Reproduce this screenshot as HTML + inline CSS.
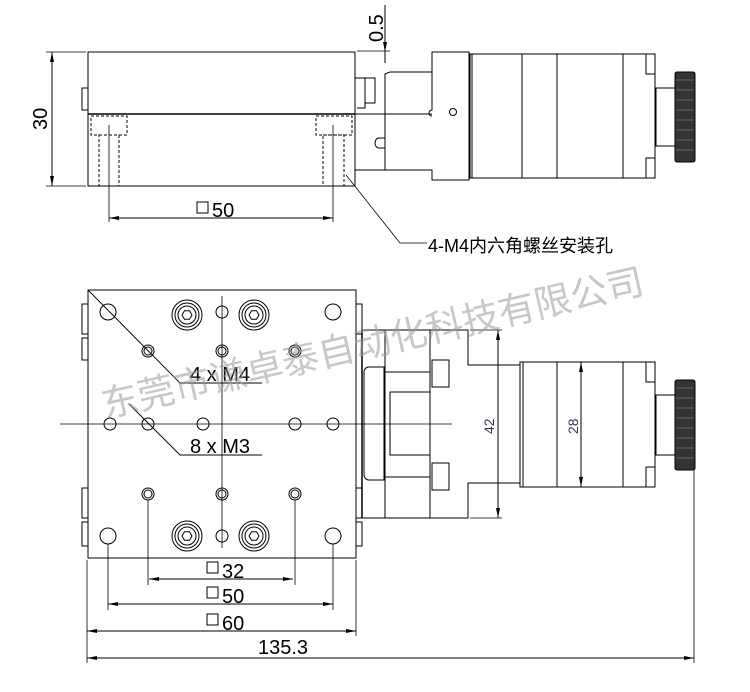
<!DOCTYPE html>
<html><head><meta charset="utf-8"><style>
html,body{margin:0;padding:0;background:#fff;}
svg{display:block;}
text{font-family:"Liberation Sans","Noto Sans CJK SC",sans-serif;}
</style></head><body>
<svg width="750" height="692" viewBox="0 0 750 692" xmlns="http://www.w3.org/2000/svg">
<defs>
<marker id="a" viewBox="0 0 10 4" refX="10" refY="2" markerWidth="10" markerHeight="4" orient="auto-start-reverse"><path d="M0,0L10,2L0,4z" fill="#000"/></marker>
</defs>
<g fill="none" stroke="#000" stroke-width="1">
<!-- ===== SIDE VIEW ===== -->
<rect x="88" y="52" width="267" height="134" fill="none"/>
<line x1="88" y1="114" x2="355" y2="114" stroke-width="1.5"/>
<path d="M88,88 h-6 v22 h6"/>
<g stroke-dasharray="3,2">
<rect x="91" y="116" width="36" height="19" fill="none"/><rect x="99" y="135" width="20" height="51" fill="none"/>
<rect x="316" y="116" width="36" height="19" fill="none"/><rect x="323" y="135" width="21" height="51" fill="none"/>
</g>
<line x1="109" y1="125" x2="109" y2="222" stroke-width="0.8"/>
<line x1="333" y1="125" x2="333" y2="222" stroke-width="0.8"/>
<line x1="109" y1="218" x2="333" y2="218" marker-start="url(#a)" marker-end="url(#a)"/>
<line x1="46" y1="52" x2="86" y2="52" stroke-width="0.8"/><line x1="46" y1="186" x2="86" y2="186" stroke-width="0.8"/>
<line x1="52" y1="52" x2="52" y2="186" marker-start="url(#a)" marker-end="url(#a)"/>
<line x1="385" y1="5" x2="385" y2="52" marker-end="url(#a)"/>
<line x1="385" y1="52" x2="385" y2="63"/>
<line x1="357" y1="51" x2="390" y2="51" stroke-width="0.8"/>
<path d="M355,78 h10 v30 h-8"/>
<rect x="365" y="78" width="10" height="25" fill="none"/>
<path d="M385,114 v-40 l5,-2 h42 v-20 h37 v128 h-37 v-10 h-77"/>
<line x1="355" y1="114" x2="432" y2="114"/>
<path d="M432,72 v38 a3,3 0 0 0 0,6"/>
<line x1="385" y1="114" x2="385" y2="170"/>
<circle cx="453" cy="112" r="3.5"/>
<path d="M385,138 h-6 a4,5 0 0 0 0,10 h6"/>
<path d="M470,54 H655 V178 H470 Z"/>
<line x1="472" y1="54" x2="472" y2="178"/>
<line x1="522" y1="54" x2="522" y2="178"/>
<line x1="557" y1="54" x2="557" y2="178"/>
<line x1="623" y1="54" x2="623" y2="178"/>
<path d="M646,54 v20 h9 M646,178 v-20 h9"/>
<path d="M656,88 h19 v58 h-19 Z"/>
<rect x="675" y="72" width="20" height="90" rx="2" fill="#333"/>
<g stroke="#999" stroke-width="0.6">
<line x1="676" y1="80" x2="694" y2="80"/><line x1="676" y1="90" x2="694" y2="90"/><line x1="676" y1="100" x2="694" y2="100"/><line x1="676" y1="110" x2="694" y2="110"/><line x1="676" y1="120" x2="694" y2="120"/><line x1="676" y1="130" x2="694" y2="130"/><line x1="676" y1="140" x2="694" y2="140"/><line x1="676" y1="150" x2="694" y2="150"/>
</g>
<polyline points="346,175 400,243 427,243" stroke-width="0.8"/>
<!-- ===== TOP VIEW ===== -->
<rect x="88" y="290" width="268" height="268" fill="none"/>
<path d="M88,304 h-6 v30 h6 M88,338 h-6 v22 h6 M88,488 h-6 v30 h6 M88,522 h-6 v24 h6"/>
<path d="M356,304 h6 v30 h-6 M356,488 h6 v30 h-6 M356,522 h6 v24 h-6"/>
<line x1="60" y1="424" x2="452" y2="424" stroke-width="0.8"/>
<line x1="222" y1="296" x2="222" y2="548" stroke-width="0.8"/>
<circle cx="108" cy="312" r="8"/><circle cx="333" cy="312" r="8"/>
<circle cx="108" cy="536" r="8"/><circle cx="333" cy="536" r="8"/>
<circle cx="110" cy="424" r="6"/><circle cx="333" cy="424" r="6"/>
<circle cx="203" cy="424" r="6"/><circle cx="222" cy="312" r="6"/><circle cx="222" cy="536" r="6"/>
<circle cx="148" cy="351" r="6"/><circle cx="148" cy="351" r="4"/>
<circle cx="222" cy="351" r="6"/><circle cx="222" cy="351" r="4"/>
<circle cx="295" cy="351" r="6"/><circle cx="295" cy="351" r="4"/>
<circle cx="148" cy="494" r="6"/><circle cx="148" cy="494" r="4"/>
<circle cx="222" cy="494" r="6"/><circle cx="222" cy="494" r="4"/>
<circle cx="295" cy="494" r="6"/><circle cx="295" cy="494" r="4"/>
<circle cx="148" cy="424" r="6"/><circle cx="295" cy="424" r="6"/>
<circle cx="187" cy="315" r="15"/><circle cx="187" cy="315" r="12"/><circle cx="187" cy="315" r="9"/>
<polygon points="192,315 189.5,319.3 184.5,319.3 182,315 184.5,310.7 189.5,310.7"/>
<circle cx="254" cy="315" r="15"/><circle cx="254" cy="315" r="12"/><circle cx="254" cy="315" r="9"/>
<polygon points="259,315 256.5,319.3 251.5,319.3 249,315 251.5,310.7 256.5,310.7"/>
<circle cx="187" cy="536" r="15"/><circle cx="187" cy="536" r="12"/><circle cx="187" cy="536" r="9"/>
<polygon points="192,536 189.5,540.3 184.5,540.3 182,536 184.5,531.7 189.5,531.7"/>
<circle cx="254" cy="536" r="15"/><circle cx="254" cy="536" r="12"/><circle cx="254" cy="536" r="9"/>
<polygon points="259,536 256.5,540.3 251.5,540.3 249,536 251.5,531.7 256.5,531.7"/>
<polyline points="88,290 180,383 262,383" stroke-width="0.9"/>
<polyline points="129,404 180,455 262,455" stroke-width="0.9"/>
<line x1="148" y1="500" x2="148" y2="585" stroke-width="0.8"/>
<line x1="295" y1="500" x2="295" y2="585" stroke-width="0.8"/>
<line x1="108" y1="544" x2="108" y2="610" stroke-width="0.8"/>
<line x1="333" y1="544" x2="333" y2="610" stroke-width="0.8"/>
<line x1="87" y1="560" x2="87" y2="663" stroke-width="0.8"/>
<line x1="356" y1="560" x2="356" y2="636" stroke-width="0.8"/>
<line x1="694" y1="470" x2="694" y2="663" stroke-width="0.8"/>
<line x1="149" y1="579" x2="293" y2="579" marker-start="url(#a)" marker-end="url(#a)"/>
<line x1="108" y1="604" x2="333" y2="604" marker-start="url(#a)" marker-end="url(#a)"/>
<line x1="87" y1="631" x2="356" y2="631" marker-start="url(#a)" marker-end="url(#a)"/>
<line x1="87" y1="658" x2="694" y2="658" marker-start="url(#a)" marker-end="url(#a)"/>
<!-- motor top view -->
<path d="M362,330 h106 v35 h52 M362,518 h106 v-35 h52"/>
<line x1="362" y1="330" x2="362" y2="518" stroke-width="1.5"/>
<line x1="385" y1="330" x2="385" y2="518"/>
<line x1="430" y1="330" x2="430" y2="518"/>
<path d="M369,367 h15 v113 h-15 a5,5 0 0 1 -5,-5 v-103 a5,5 0 0 1 5,-5 Z"/>
<path d="M385,372 h45 v105 h-45 Z"/>
<path d="M390,392 h40 v63 h-40 Z"/>
<path d="M432,360 h17 v27 h-17 Z M432,463 h17 v27 h-17 Z"/>
<path d="M520,362 H655 V487 H520 Z"/>
<line x1="523" y1="362" x2="523" y2="487"/>
<line x1="557" y1="362" x2="557" y2="487"/>
<line x1="623" y1="362" x2="623" y2="487"/>
<path d="M646,362 v20 h9 M646,487 v-20 h9"/>
<path d="M656,395 h19 v60 h-19 Z"/>
<rect x="675" y="380" width="20" height="90" rx="2" fill="#333"/>
<g stroke="#999" stroke-width="0.6">
<line x1="676" y1="388" x2="694" y2="388"/><line x1="676" y1="398" x2="694" y2="398"/><line x1="676" y1="408" x2="694" y2="408"/><line x1="676" y1="418" x2="694" y2="418"/><line x1="676" y1="428" x2="694" y2="428"/><line x1="676" y1="438" x2="694" y2="438"/><line x1="676" y1="448" x2="694" y2="448"/><line x1="676" y1="458" x2="694" y2="458"/>
</g>
<line x1="470" y1="330" x2="502" y2="330" stroke-width="0.8"/>
<line x1="470" y1="518" x2="502" y2="518" stroke-width="0.8"/>
<line x1="498" y1="330" x2="498" y2="518" marker-start="url(#a)" marker-end="url(#a)"/>
<line x1="581" y1="362" x2="581" y2="487" marker-start="url(#a)" marker-end="url(#a)"/>
<path d="M207,562 h11 v11 h-11 Z M207,587 h11 v11 h-11 Z M207,614 h11 v11 h-11 Z M197,202 h11 v11 h-11 Z"/>
</g>
<g fill="#000" font-size="20">
<text transform="translate(47,130) rotate(-90)">30</text>
<text transform="translate(383,42) rotate(-90)">0.5</text>
<text x="212" y="217">50</text>
<text x="428" y="252" font-size="18">4-M4内六角螺丝安装孔</text>
<text x="190" y="381">4 x  M4</text>
<text x="190" y="453">8 x  M3</text>
<text x="222" y="578">32</text>
<text x="222" y="603">50</text>
<text x="222" y="630">60</text>
<text x="258" y="654">135.3</text>
</g>
<text transform="translate(494,434) rotate(-90)" font-size="14" fill="#335">42</text>
<text transform="translate(578,434) rotate(-90)" font-size="14" fill="#335">28</text>
<text transform="translate(105,418) rotate(-13)" font-size="37" fill="#999" fill-opacity="0.55">东莞市谦卓泰自动化科技有限公司</text>
</svg>
</body></html>
